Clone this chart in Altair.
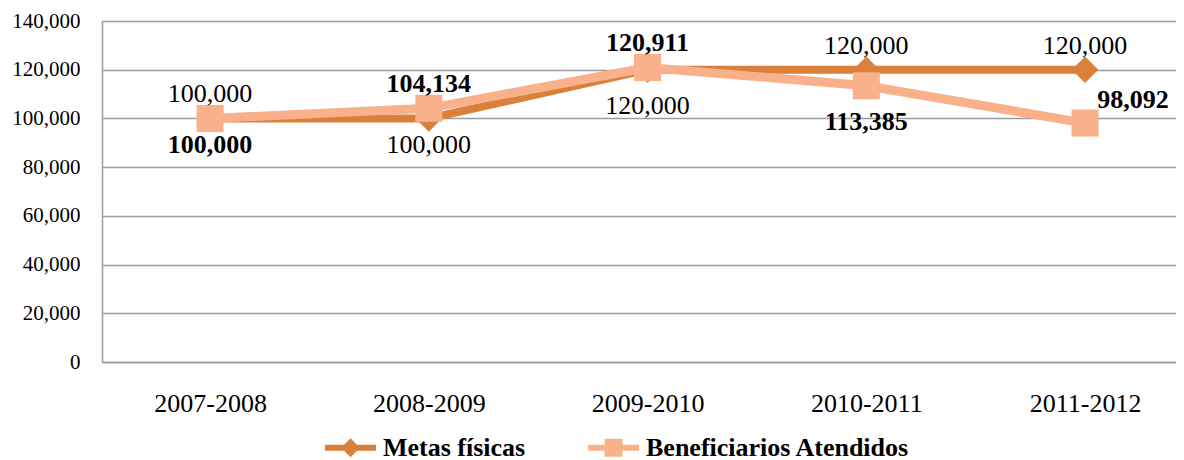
import altair as alt
import pandas as pd

periodos = ["2007-2008", "2008-2009", "2009-2010", "2010-2011", "2011-2012"]
metas = [100000, 100000, 120000, 120000, 120000]
beneficiarios = [100000, 104134, 120911, 113385, 98092]
series = ["Metas físicas", "Beneficiarios Atendidos"]
colores = ["#D9803A", "#F8B18B"]
pos_metas = ["above", "below", "far_below", "above", "above"]
pos_benef = ["below", "above", "above", "far_below", "right"]
y_ticks = [0, 20000, 40000, 60000, 80000, 100000, 120000, 140000]

rows = []
for s, vals, poss in [(series[0], metas, pos_metas), (series[1], beneficiarios, pos_benef)]:
    for p, v, q in zip(periodos, vals, poss):
        rows.append({"periodo": p, "serie": s, "valor": v, "pos": q})
df = pd.DataFrame(rows)

FONT = "Liberation Serif"
GRID = "#9C9C9C"

xs = alt.Scale(type="point", padding=0.4549, align=0.543)
ys = alt.Scale(domain=[0, 140000], nice=False)

x_axis = alt.X("periodo:N", sort=periodos, title=None, scale=xs,
               axis=alt.Axis(labelAngle=0, ticks=False, domain=True, grid=False,
                             labelPadding=28, labelFont=FONT, labelFontSize=26,
                             labelColor="black", domainColor=GRID, domainWidth=1.5))
y_axis = alt.Y("valor:Q", title=None, scale=ys,
               axis=alt.Axis(values=y_ticks, labelExpr="format(datum.value, ',')",
                             ticks=False, grid=True,
                             labelPadding=22, labelFont=FONT, labelFontSize=21,
                             labelColor="black", domainColor=GRID, domainWidth=1.5,
                             gridColor=GRID, gridWidth=1.5))
x_plain = alt.X("periodo:N", sort=periodos, title=None, scale=xs)
y_plain = alt.Y("valor:Q", title=None, scale=ys)

base = alt.Chart(df)

layers = []
# Metas
layers.append(base.transform_filter(alt.datum.serie == series[0])
              .mark_line(color=colores[0], strokeWidth=8).encode(x=x_axis, y=y_axis))
layers.append(base.transform_filter(alt.datum.serie == series[0])
              .mark_point(shape="diamond", filled=True, size=700, color=colores[0], opacity=1)
              .encode(x=x_plain, y=y_plain))
# Beneficiarios
layers.append(base.transform_filter(alt.datum.serie == series[1])
              .mark_line(color=colores[1], strokeWidth=9).encode(x=x_plain, y=y_plain))
layers.append(base.transform_filter(alt.datum.serie == series[1])
              .mark_point(shape="square", filled=True, size=729, color=colores[1], opacity=1)
              .encode(x=x_plain, y=y_plain))

offsets = {"above": (0, -24), "below": (0, 27), "far_below": (0, 36), "right": (48, -23)}
weights = {series[0]: "normal", series[1]: "bold"}
for s in series:
    for pos, (dx, dy) in offsets.items():
        layers.append(
            base.transform_filter((alt.datum.serie == s) & (alt.datum.pos == pos))
            .mark_text(font=FONT, fontSize=26, fontWeight=weights[s], color="black",
                       align="center", baseline="middle", dx=dx, dy=dy)
            .encode(x=x_plain, y=y_plain, text=alt.Text("valor:Q", format=","))
        )

path_m = "M-1,-0.115H1V0.115H-1Z M0,-0.37L0.37,0L0,0.37L-0.37,0Z"
path_b = "M-1,-0.115H1V0.115H-1Z M-0.35,-0.35H0.35V0.35H-0.35Z"
leg = alt.Legend(orient="none", legendX=223, legendY=401, direction="horizontal", title=None,
                 symbolSize=2601, symbolStrokeWidth=0, labelFont=FONT, labelFontSize=26,
                 labelFontWeight="bold", labelColor="black", labelOffset=7, columnPadding=62,
                 padding=0, labelLimit=500)
layers.append(
    base.transform_filter("false")
    .mark_point(filled=True, opacity=1, strokeWidth=0)
    .encode(x=x_plain, y=y_plain,
            color=alt.Color("serie:N", scale=alt.Scale(domain=series, range=colores), legend=leg),
            shape=alt.Shape("serie:N", scale=alt.Scale(domain=series, range=[path_m, path_b]), legend=leg))
)

chart = alt.layer(*layers).properties(
    width=1074, height=341, autosize="none",
    padding={"left": 94, "top": 13, "right": 0, "bottom": 102},
    background="white",
).configure_view(stroke=None).configure_axis(
    labelFont=FONT, labelColor="black", domainColor=GRID, domainWidth=1.5,
    gridColor=GRID, gridWidth=1.5, gridOpacity=1,
).configure_axisY(labelFontSize=21, labelFont=FONT).configure_axisLeft(labelFontSize=21, labelFont=FONT)

chart.save("out.html", embed_options={"renderer": "svg", "actions": False})
